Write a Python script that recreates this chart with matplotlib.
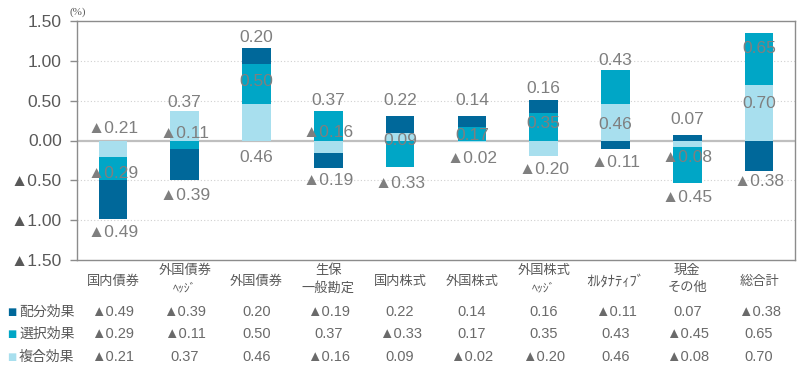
import numpy as np
import matplotlib
matplotlib.use("Agg")
import matplotlib.pyplot as plt
import matplotlib.transforms as mtransforms

plt.rcParams['font.family'] = ['Liberation Sans', 'Noto Sans CJK JP', 'DejaVu Sans']

categories = ['国内債券', '外国債券\nﾍｯｼﾞ', '外国債券', '生保\n一般勘定', '国内株式',
              '外国株式', '外国株式\nﾍｯｼﾞ', 'ｵﾙﾀﾅﾃｨﾌﾞ', '現金\nその他', '総合計']
series_names = ['配分効果', '選択効果', '複合効果']
allocation = [-0.49, -0.39, 0.20, -0.19, 0.22, 0.14, 0.16, -0.11, 0.07, -0.38]
selection = [-0.29, -0.11, 0.50, 0.37, -0.33, 0.17, 0.35, 0.43, -0.45, 0.65]
interaction = [-0.21, 0.37, 0.46, -0.16, 0.09, -0.02, -0.20, 0.46, -0.08, 0.70]

# where the data labels sit (value units), placed by hand in the original
label_y_alloc = [-1.16, -0.69, 1.29, -0.50, 0.50, 0.50, 0.65, -0.27, 0.26, -0.52]
label_y_sel = [-0.42, 0.09, 0.74, 0.50, -0.54, 0.06, 0.21, 1.01, -0.71, 1.15]
label_y_int = [0.15, 0.48, -0.21, 0.10, 0.00, -0.23, -0.37, 0.20, -0.21, 0.47]

colors = ['#00689A', '#00A6C6', '#A8DFEE']
grey = '#595959'
label_grey = '#7f7f7f'


def fmt(v):
    return ('▲' if v < 0 else '') + f'{abs(v):.2f}'


fig = plt.figure(figsize=(8, 3.71), dpi=100)
H = 371
ax = fig.add_axes([77 / 800, 1 - 260 / H, 718 / 800, 239 / H])

x = np.arange(len(categories))
values = [allocation, selection, interaction]
label_ys = [label_y_alloc, label_y_sel, label_y_int]

# Excel stacks the series in reverse: 複合 nearest zero, then 選択, then 配分
pos_base = np.zeros(len(x))
neg_base = np.zeros(len(x))
for idx in [2, 1, 0]:
    v = np.array(values[idx])
    base = np.where(v >= 0, pos_base, neg_base)
    ax.bar(x, v, 0.4, bottom=base, color=colors[idx], zorder=3)
    pos_base = pos_base + np.where(v >= 0, v, 0)
    neg_base = neg_base + np.where(v < 0, v, 0)

for idx in range(3):
    for i in range(len(x)):
        ax.text(x[i], label_ys[idx][i], fmt(values[idx][i]), ha='center', va='center',
                fontsize=12.5, color=label_grey, zorder=5)

ax.set_xlim(-0.5, len(x) - 0.5)
ax.set_ylim(-1.5, 1.5)
yt = [-1.5, -1.0, -0.5, 0.0, 0.5, 1.0, 1.5]
ax.set_yticks(yt)
ax.set_yticklabels([fmt(t) for t in yt], fontsize=12.5, color=grey)
ax.tick_params(axis='y', length=5, width=1, color='#8c8c8c', pad=6)
ax.set_xticks([])
for t in [-1.0, -0.5, 0.5, 1.0]:
    ax.axhline(t, color='#d0d0d0', lw=0.8, ls=(0, (1, 2)), zorder=1)
ax.axhline(0, color='#bfbfbf', lw=1.6, zorder=2)
for s in ax.spines.values():
    s.set_color('#8c8c8c')
    s.set_linewidth(1)

fig.text(78 / 800, 1 - 12 / H, '(%)', ha='center', va='center', fontsize=8,
         color=grey, family='Liberation Serif')

# table under the chart
trans = mtransforms.blended_transform_factory(ax.transData, fig.transFigure)
for i, cat in enumerate(categories):
    parts = cat.split('\n')
    if len(parts) == 1:
        size = 10.5 if cat.startswith('ｵ') else 9.5
        fig.text(x[i], 1 - 282 / H, cat, transform=trans, ha='center', va='center',
                 fontsize=size, color=grey)
    else:
        fig.text(x[i], 1 - 271 / H, parts[0], transform=trans, ha='center', va='center',
                 fontsize=9.5, color=grey)
        size = 8.5 if parts[1] == 'ﾍｯｼﾞ' else 9.5
        fig.text(x[i], 1 - 288 / H, parts[1], transform=trans, ha='center', va='center',
                 fontsize=size, color=grey)

row_y = [312, 334, 357]
for idx in range(3):
    yy = 1 - row_y[idx] / H
    fig.text(7 / 800, yy, '■', ha='left', va='center', fontsize=7, color=colors[idx],
             family='DejaVu Sans')
    fig.text(19 / 800, yy, series_names[idx], ha='left', va='center', fontsize=10,
             color=grey)
    for i in range(len(x)):
        fig.text(x[i], yy, fmt(values[idx][i]), transform=trans, ha='center',
                 va='center', fontsize=10.5, color='#6a6a6a')

fig.savefig('out.png', dpi=100)
